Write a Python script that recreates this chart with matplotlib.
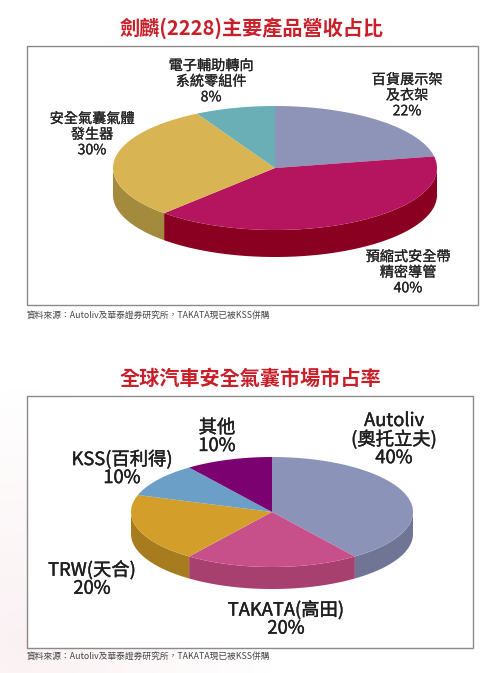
import matplotlib.pyplot as plt
import matplotlib.patheffects as pe
import numpy as np
from matplotlib.patches import Polygon, Rectangle

plt.rcParams['font.family'] = ['Noto Sans CJK TC', 'DejaVu Sans']

# chart 1: 劍麟 product revenue mix
labels1 = ['百貨展示架\n及衣架', '預縮式安全帶\n精密導管', '安全氣囊氣體\n發生器', '電子輔助轉向\n系統零組件']
share1 = [22, 40, 30, 8]
top1 = ['#8e93b8', '#b5155f', '#d9b452', '#6aafb5']
side1 = ['#6f7494', '#8a0020', '#a38a3d', '#4f8a8f']

# chart 2: global airbag market share
labels2 = ['Autoliv\n(奧托立夫)', 'TAKATA(高田)', 'TRW(天合)', 'KSS(百利得)', '其他']
share2 = [40, 20, 20, 10, 10]
top2 = ['#8c93b8', '#c7508a', '#d39e2a', '#6b9fc8', '#7b0070']
side2 = ['#717595', '#a8406f', '#a67c1e', '#55809f', '#5e0055']

source = '資料來源：Autoliv及華泰證券研究所，TAKATA現已被KSS併購'

W, H = 500, 673
fig = plt.figure(figsize=(W / 100, H / 100), dpi=100)
ax = fig.add_axes([0, 0, 1, 1])
ax.set_xlim(0, W)
ax.set_ylim(H, 0)
ax.axis('off')

# faint pink wash in the lower left corner
yy, xx = np.mgrid[0:H, 0:W]
d = np.sqrt((xx - 20.0) ** 2 + (yy - 640.0) ** 2)
wash = np.clip(1 - d / 260.0, 0, 1) * 0.12
img = np.ones((H, W, 4))
img[..., 0] = 0.85
img[..., 1] = 0.55
img[..., 2] = 0.6
img[..., 3] = wash
ax.imshow(img, extent=(0, W, H, 0), zorder=0)


def pie3d(cx, cy, rx, ry, depth, vals, tops, sides):
    total = float(sum(vals))
    start = 90.0
    spans = []
    for v in vals:
        end = start - 360.0 * v / total
        spans.append((end, start))
        start = end
    # side walls, only the front half (-180..0 deg) shows
    for (a, b), c in zip(spans, sides):
        for shift in (0, 360, -360):
            s = max(a + shift, -180)
            e = min(b + shift, 0)
            if e > s:
                t = np.radians(np.linspace(s, e, 80))
                x = cx + rx * np.cos(t)
                y = cy - ry * np.sin(t)
                pts = np.column_stack([np.r_[x, x[::-1]], np.r_[y, y[::-1] + depth]])
                ax.add_patch(Polygon(pts, closed=True, fc=c, ec='none', zorder=2))
    for (a, b), c in zip(spans, tops):
        t = np.radians(np.linspace(a, b, 120))
        x = np.r_[cx, cx + rx * np.cos(t)]
        y = np.r_[cy, cy - ry * np.sin(t)]
        ax.add_patch(Polygon(np.column_stack([x, y]), closed=True, fc=c, ec='none', zorder=3))


title_kw = dict(ha='center', va='center', color='#c8202a', fontsize=14.5, fontweight='bold')
ax.text(252, 28, '劍麟(2228)主要產品營收占比', **title_kw)
ax.text(250, 378, '全球汽車安全氣囊市場市占率', **title_kw)

ax.add_patch(Rectangle((27, 46), 451, 259, fc='white', ec='#8a8a8a', lw=1.0, zorder=1))
ax.add_patch(Rectangle((27, 396), 446, 252, fc='white', ec='#8a8a8a', lw=1.0, zorder=1))

pie3d(275, 168, 162, 62, 27, share1, top1, side1)
pie3d(272, 512, 141, 55, 22, share2, top2, side2)

# labels, chart 1
pos1 = [(407, 80), (408, 257), (92, 119), (211, 66)]
for lab, v, (x, y) in zip(labels1, share1, pos1):
    ax.text(x, y - 7, lab + '\n%d%%' % v, ha='center', va='top', fontsize=10.2,
            color='#222222', linespacing=1.15, zorder=4,
            path_effects=[pe.withStroke(linewidth=0.15, foreground='#222222')])

# labels, chart 2
pos2 = [(394, 421), (286, 610), (92, 570), (122, 459), (217, 428)]
for lab, v, (x, y) in zip(labels2, share2, pos2):
    ax.text(x, y - 9, lab + '\n%d%%' % v, ha='center', va='top', fontsize=13.2,
            color='#1e1e1e', linespacing=1.0, zorder=4,
            path_effects=[pe.withStroke(linewidth=0.3, foreground='#1e1e1e')])

ax.text(27, 315, source, ha='left', va='center', fontsize=6.3, color='#444444')
ax.text(27, 656, source, ha='left', va='center', fontsize=6.3, color='#444444')

fig.savefig('out.png', dpi=100)
